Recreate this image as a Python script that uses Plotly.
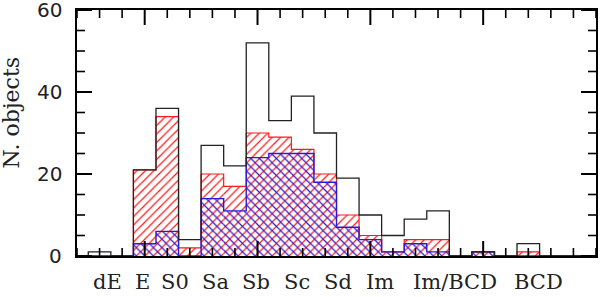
import plotly.graph_objects as go

# bin index (bin centres), one bin per half morphological class step
bins = list(range(22))
total = [1, 0, 21, 36, 4, 27, 22, 52, 33, 39, 30, 19, 10, 5, 9, 11, 0, 1, 0, 3, 0, 0]
red_vals = [0, 0, 21, 34, 2, 20, 17, 30, 29, 26, 20, 10, 5, 1, 4, 4, 0, 1, 0, 1, 0, 0]
blue_vals = [0, 0, 3, 6, 0, 14, 11, 24, 25, 25, 18, 7, 4, 1, 3, 1, 0, 1, 0, 0, 0, 0]

type_labels = ["dE", "E", "S0", "Sa", "Sb", "Sc", "Sd", "Im", "Im/BCD", "BCD"]
label_pos = [0.34, 1.9, 3.35, 5.12, 6.92, 8.77, 10.56, 12.43, 15.76, 19.46]
y_ticks = [0, 20, 40, 60]
y_minor = [5, 10, 15, 25, 30, 35, 45, 50, 55]
x_major = [2, 7, 12, 17]
x_minor = [-1, 0, 1, 3, 4, 5, 6, 8, 9, 10, 11, 13, 14, 15, 16, 18, 19, 20, 21, 22]

X_RANGE = [-1, 22]
Y_RANGE = [0, 60]

W, H = 600, 297
M = dict(l=77, r=4, t=10, b=41)
px_x = (W - M["l"] - M["r"]) / (X_RANGE[1] - X_RANGE[0])   # pixels per x unit
px_y = (H - M["t"] - M["b"]) / (Y_RANGE[1] - Y_RANGE[0])   # pixels per y unit


def step(values):
    edges = [b - 0.5 for b in bins] + [bins[-1] + 0.5]
    xs = [edges[0]] + edges
    ys = [0] + list(values) + [0]
    return xs, ys


fig = go.Figure()

fig.add_trace(go.Bar(
    x=bins, y=red_vals, width=1,
    marker=dict(color="#ff1a1a", line=dict(width=0),
                pattern=dict(shape="/", size=6, solidity=0.2,
                             fillmode="replace", bgcolor="rgba(0,0,0,0)")),
    showlegend=False, hoverinfo="skip",
))
fig.add_trace(go.Bar(
    x=bins, y=blue_vals, width=1,
    marker=dict(color="#2a1ad8", line=dict(width=0),
                pattern=dict(shape="\\", size=6, solidity=0.2,
                             fillmode="replace", bgcolor="rgba(0,0,0,0)")),
    showlegend=False, hoverinfo="skip",
))

for vals, col, w in [(red_vals, "#ff1a1a", 1.2), (blue_vals, "#2a1ad8", 1.4), (total, "#222222", 1.3)]:
    xs, ys = step(vals)
    fig.add_trace(go.Scatter(x=xs, y=ys, mode="lines", line=dict(color=col, width=w, shape="hv"),
                             showlegend=False, hoverinfo="skip"))


# inside tick marks on all four sides, placed at the axis tick values
def tick_trace(xvals, yvals, length_px, width):
    tx, ty = [], []
    ly = length_px / px_y
    lx = length_px / px_x
    for v in xvals:
        tx += [v, v, None, v, v, None]
        ty += [Y_RANGE[0], Y_RANGE[0] + ly, None, Y_RANGE[1], Y_RANGE[1] - ly, None]
    for v in yvals:
        tx += [X_RANGE[0], X_RANGE[0] + lx, None, X_RANGE[1], X_RANGE[1] - lx, None]
        ty += [v, v, None, v, v, None]
    fig.add_trace(go.Scatter(x=tx, y=ty, mode="lines", line=dict(color="black", width=width),
                             connectgaps=False, showlegend=False, hoverinfo="skip",
                             cliponaxis=False))


tick_trace(x_major, y_ticks, 15, 2.0)
tick_trace(x_minor, y_minor, 8, 1.6)

for lab, pos in zip(type_labels, label_pos):
    fig.add_annotation(x=pos, y=-0.106, xref="x", yref="paper", text=lab, showarrow=False,
                       xanchor="center", yanchor="middle",
                       font=dict(family="DejaVu Serif", size=21, color="#222222"))

for v in y_ticks:
    fig.add_annotation(x=-0.026, y=v, xref="paper", yref="y", text=str(v), showarrow=False,
                       xanchor="right", yanchor="middle",
                       font=dict(family="DejaVu Sans", size=20, color="#222222"))

fig.add_annotation(x=-0.127, y=0.58, xref="paper", yref="paper", text="N. objects",
                   textangle=-90, showarrow=False, xanchor="center", yanchor="middle",
                   font=dict(family="DejaVu Serif", size=22, color="#222222"))

axis_common = dict(showgrid=False, zeroline=False, automargin=False, showticklabels=False,
                   showline=True, linecolor="black", linewidth=2, mirror=True, ticks="")

fig.update_layout(
    width=W, height=H,
    margin=M,
    paper_bgcolor="white", plot_bgcolor="white",
    barmode="overlay",
    showlegend=False,
    xaxis=dict(range=X_RANGE, **axis_common),
    yaxis=dict(range=Y_RANGE, **axis_common),
)

fig.write_html("out.html", config={"displayModeBar": False},
               post_script="document.body.style.margin='0';")
